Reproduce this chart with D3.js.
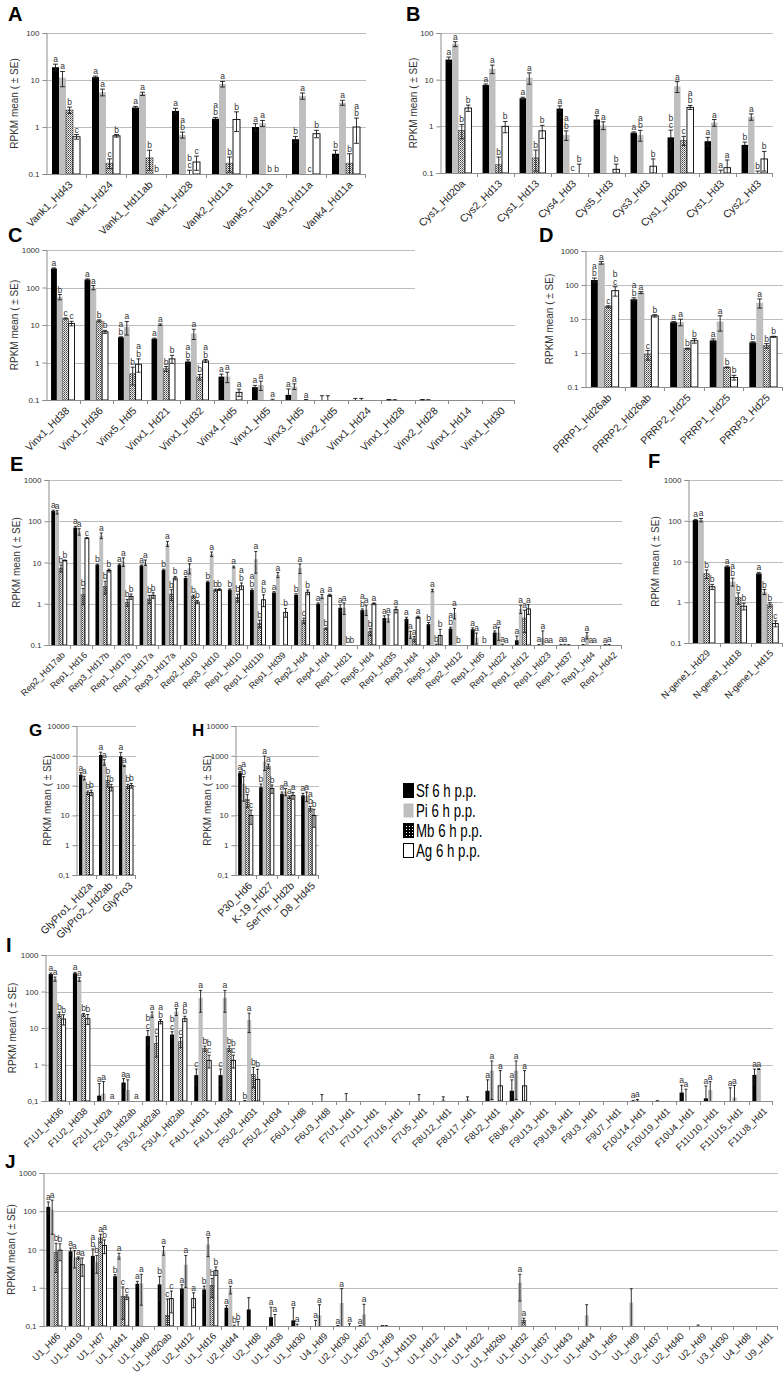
<!DOCTYPE html>
<html><head><meta charset="utf-8">
<script src="https://cdn.jsdelivr.net/npm/d3@7"></script>
<style>body{margin:0;background:#fff;} svg{display:block;font-family:"Liberation Sans",Arial,sans-serif;}</style>
</head><body><svg id="c" width="784" height="1375"></svg>
<script>
// ---------- DATA: [mean, SE] per category; null = no bar ----------
const seriesNames = ["Sf 6 h p.p.","Pi 6 h p.p.","Mb 6 h p.p.","Ag 6 h p.p."];

const catsA = ["Vank1_Hd43","Vank1_Hd24","Vank1_Hd11ab","Vank1_Hd28","Vank2_Hd11a","Vank5_Hd11a","Vank3_Hd11a","Vank4_Hd11a"];
const sfA = [[18.7,3],[11.5,0.6],[2.6,0.15],[2.2,0.3],[1.5,0.1],[1.0,0.18],[0.55,0.08],[0.27,0.05]];
const piA = [[11.2,4],[5.5,0.9],[5.1,0.4],[0.68,0.1],[8.2,1.1],[1.2,0.18],[4.6,0.7],[3.3,0.4]];
const mbA = [[2.3,0.35],[0.17,0.04],[0.22,0.1],[0.09,0.03],[0.17,0.06],null,[0.09,0.01],[0.17,0.1]];
const agA = [[0.62,0.07],[0.65,0.04],null,[0.18,0.06],[1.45,0.65],null,[0.72,0.13],[1.0,0.55]];
const letA = ["a a b c","a a c b","a a b b","a ab bc c","ab a b b","a a b b","b a c b","b a b ab"];

const catsB = ["Cys1_Hd20a","Cys2_Hd13","Cys1_Hd13","Cys4_Hd3","Cys5_Hd3","Cys3_Hd3","Cys1_Hd20b","Cys1_Hd3","Cys2_Hd3"];
const sfB = [[27,3.5],[7.7,0.4],[4.0,0.2],[2.4,0.35],[1.4,0.3],[0.73,0.03],[0.58,0.25],[0.48,0.1],[0.4,0.06]];
const piB = [[58,7],[17,3.5],[11,3],[0.65,0.15],[1.05,0.2],[0.65,0.17],[7.2,1.9],[1.2,0.2],[1.6,0.25]];
const mbB = [[0.82,0.28],[0.15,0.07],[0.21,0.1],null,null,null,[0.5,0.11],[0.1,0.015],[0.1,0.01]];
const agB = [[2.47,0.38],[1.0,0.27],[0.8,0.25],[0.1,0.055],[0.12,0.035],[0.14,0.06],[2.55,0.25],[0.13,0.06],[0.2,0.09]];
const letB = ["a a b b","a a b b","a a b b","a ab c b","a a - b","a ab - b","bc a c ab","a a a a","b a b b"];

const catsC = ["Vinx1_Hd38","Vinx1_Hd36","Vinx5_Hd5","Vinx1_Hd21","Vinx1_Hd32","Vinx4_Hd5","Vinx1_Hd5","Vinx3_Hd5","Vinx2_Hd5","Vinx1_Hd24","Vinx1_Hd28","Vinx2_Hd28","Vinx1_Hd14","Vinx1_Hd30"];
const sfC = [[321,12],[163,6],[4.7,0.15],[4.3,0.15],[1.06,0.12],[0.42,0.07],[0.22,0.025],[0.137,0.06],[0.1,0.03],[0.1,0.01],[0.102,0.001],[0.102,0.001],null,null];
const piC = [[56,9],[100,13],[8.9,3.5],[10.2,0.5],[5.9,1.8],[0.42,0.13],[0.25,0.07],[0.23,0.04],[0.1,0.03],[0.1,0.01],[0.101,0.001],[0.101,0.001],null,null];
const mbC = [[14.9,0.5],[12.9,0.8],[0.5,0.25],[0.68,0.1],[0.41,0.07],null,null,null,null,null,null,null,null,null];
const agC = [[11,1.5],[6.6,0.6],[0.9,0.35],[1.25,0.3],[1.1,0.1],[0.16,0.035],[0.1,0.005],[0.1,0.003],null,null,null,null,null,null];
const letC = ["a b c c","a a b b","ab a b ab","a a b b","ab a b ab","a a - a","a a - a","a a - a","- - - -","- - - -","- - - -","- - - -","- - - -","- - - -"];

const catsD = ["PRRP1_Hd26ab","PRRP2_Hd26ab","PRRP2_Hd25","PRRP1_Hd25","PRRP3_Hd25"];
const sfD = [[140,20],[38,4],[8.0,0.4],[2.35,0.25],[2.05,0.1]];
const piD = [[450,40],[60,4],[8.1,1.8],[8.4,4],[30,9]];
const mbD = [[23,1.5],[0.9,0.28],[1.34,0.05],[0.38,0.01],[1.64,0.25]];
const agD = [[68,21],[12.4,1],[2.3,0.35],[0.19,0.03],[3.0,0.1]];
const letD = ["ab a c bc","ab a c b","a a b b","a a b b","b a b b"];

const catsE = ["Rep2_Hd17ab","Rep1_Hd16","Rep3_Hd17b","Rep1_Hd17b","Rep1_Hd17a","Rep3_Hd17a","Rep2_Hd10","Rep3_Hd10","Rep1_Hd10","Rep1_Hd11b","Rep1_Hd39","Rep2_Hd4","Rep4_Hd4","Rep1_Hd21","Rep6_Hd4","Rep1_Hd35","Rep3_Hd4","Rep5_Hd4","Rep2_Hd12","Rep1_Hd6","Rep1_Hd22","Rep1_Hd12","Rep1_Hd23","Rep1_Hd37","Rep1_Hd4","Rep1_Hd42"];
const sfE = [[178,8],[70,5],[8.8,0.3],[8.8,0.4],[8.4,0.3],[6.6,0.3],[4.2,0.35],[3.4,0.15],[2.2,0.1],[2.15,0.15],[1.87,0.1],[1.65,0.1],[1.0,0.05],[0.8,0.15],[0.7,0.05],[0.45,0.06],[0.43,0.04],[0.32,0.03],[0.25,0.02],[0.24,0.02],[0.2,0.02],[0.13,0.035],[0.1,0.003],[0.1,0.003],[0.1,0.003],[0.1,0.002]];
const piE = [[165,15],[56,10],[45,7],[10.5,2.5],[10,1.5],[28.5,4],[7.3,2],[16,2],[7.8,0.4],[12,6.5],[5.0,0.7],[7.3,1.9],[1.5,0.17],[0.8,0.25],[0.72,0.2],[0.45,0.09],[0.18,0.035],[2.1,0.15],[0.6,0.17],[0.15,0.045],[0.2,0.07],[0.75,0.17],[0.15,0.07],[0.1,0.004],[0.17,0.03],[0.1,0.003]];
const mbE = [[7.3,1.4],[1.65,0.7],[2.6,0.9],[1.07,0.2],[1.3,0.3],[1.7,0.5],[1.5,0.12],[2.15,0.12],[1.4,0.3],[0.33,0.07],null,[0.39,0.06],[0.25,0.01],null,[0.21,0.04],null,[0.14,0.02],[0.1,0.005],null,null,[0.1,0.005],[0.45,0.25],null,[0.1,0.002],null,null];
const agE = [[11.2,0.3],[39,1],[6.4,0.5],[1.5,0.22],[1.6,0.25],[4.2,0.4],[1.1,0.1],[2.2,0.1],[2.7,0.5],[1.25,0.4],[0.62,0.15],[1.9,0.25],[1.6,0.1],null,[1.0,0.05],[0.72,0.12],[0.47,0.03],[0.17,0.07],null,null,null,[0.75,0.2],null,null,null,null];
const letE = ["a a b b","a a b c","b a b b","a a b b","a a b b","b a b b","a a b b","b a b b","b a b ab","ab a b ab","a a - b","b a c b","a a b a","a a b b","ab a b a","a a - a","a a a a","b a b b","ab a b -","a a - b","a a a a","a a a a","a a a a","a a - -","a a a a","a a - -"];

const catsF = ["N-gene1_Hd29","N-gene1_Hd18","N-gene1_Hd15"];
const sfF = [[104,4],[7.5,0.3],[5.1,0.3]];
const piF = [[104,10],[3.2,0.7],[1.8,0.25]];
const mbF = [[5.0,1.2],[1.3,0.4],[0.87,0.1]];
const agF = [[2.4,0.35],[0.8,0.15],[0.3,0.05]];
const letF = ["a a b b","a ab b b","a b b c"];

const catsG = ["GlyPro1_Hd2a","GlyPro2_Hd2ab","GlyPro3"];
const sfG = [[232,40],[1070,250],[950,350]];
const piG = [[180,25],[610,130],[460,25]];
const mbG = [[58,8],[150,60],[95,15]];
const agG = [[58,12],[88,22],[100,18]];
const letG = ["a a b b","a a b b","a a b b"];

const catsH = ["P30_Hd6","K-19_Hd27","SerThr_Hd2b","D8_Hd45"];
const sfH = [[270,25],[88,25],[53,8],[47,8]];
const piH = [[115,85],[650,330],[63,17],[45,16]];
const mbH = [[34,16],[450,80],[41,4],[17,3]];
const agH = [[10,5],[80,25],[47,12],[10,6]];
const letH = ["a ab b c","b a a b","a a a a","a a ab b"];

const catsI = ["F1U1_Hd36","F1U2_Hd38","F2U1_Hd2a","F2U3_Hd2ab","F3U2_Hd2ab","F3U4_Hd2ab","F4U1_Hd31","F4U1_Hd34","F5U2_Hd31","F5U2_Hd34","F6U1_Hd8","F6U3_Hd8","F7U1_Hd1","F7U11_Hd1","F7U16_Hd1","F7U5_Hd1","F8U12_Hd1","F8U17_Hd1","F8U2_Hd1","F8U6_Hd1","F9U13_Hd1","F9U18_Hd1","F9U3_Hd1","F9U7_Hd1","F10U14_Hd1","F10U19_Hd1","F10U4_Hd1","F11U10_Hd1","F11U15_Hd1","F11U8_Hd1"];
const sfI = [[300,20],[315,20],[0.14,0.16],[0.32,0.09],[6.0,2.5],[6.6,1.3],[0.51,0.24],[0.51,0.24],[0.1,0.003],null,null,null,null,null,null,null,null,null,[0.19,0.19],[0.19,0.19],null,null,null,null,[0.1,0.004],[0.101,0.001],[0.17,0.1],[0.118,0.14],[0.1,0.13],[0.52,0.23]];
const piI = [[220,28],[215,25],[0.16,0.18],[0.2,0.18],[23.5,4],[28,6],[67,40],[67,40],[16.5,9],null,null,[0.1,0.05],[0.1,0.06],null,null,[0.1,0.05],[0.11,0.02],[0.11,0.02],[0.68,0.57],[0.68,0.57],null,null,null,null,[0.105,0.005],null,[0.1,0.11],[0.2,0.14],[0.125,0.14],[0.75,0.02]];
const mbI = [[23.7,3.5],[23,2],null,null,[3.8,2.2],[4.2,1.3],[2.75,0.45],[2.75,0.45],[0.53,0.3],null,null,null,null,null,null,null,null,null,null,null,null,null,null,null,null,null,null,null,null,null];
const agI = [[17.6,5.5],[18,5.5],null,null,[15,2],[18,3],[1.3,0.5],[1.3,0.5],[0.39,0.35],null,null,null,null,null,null,null,null,null,[0.26,0.42],[0.26,0.42],null,null,null,null,null,null,null,null,null,null];
const letI = ["a a b b","a a b b","a a - a","a a - a","bc a c ab","bc a c ab","c a b bc","c a b bc","b a b b","- - - -","- - - -","- - - -","- - - -","- - - -","- - - -","- - - -","- - - -","- - - -","a a - a","a a - a","- - - -","- - - -","- - - -","- - - -","a a - -","- - - -","a a - -","a a - -","a a - -","a a - -"];

const catsJ = ["U1_Hd6","U1_Hd19","U1_Hd7","U1_Hd41","U1_Hd40","U1_Hd20ab","U2_Hd12","U1_Hd16","U2_Hd44","U2_Hd8","U1_Hd38","U1_Hd30","U4_Hd9","U2_Hd30","U1_Hd27","U3_Hd9","U1_Hd11b","U1_Hd12","U1_Hd14","U1_Hd22","U1_Hd26b","U1_Hd32","U1_Hd37","U1_Hd43","U1_Hd44","U1_Hd5","U1_Hd9","U2_Hd37","U2_Hd40","U2_Hd9","U3_Hd30","U4_Hd8","U9_Hd1"];
const sfJ = [[130,45],[9.0,1.9],[6.8,3.5],[2.0,0.2],[1.27,0.2],[1.22,0.75],[0.95,0.25],[0.9,0.2],[0.3,0.04],[0.27,0.28],[0.17,0.14],[0.14,0.16],[0.1,0.04],[0.1,0.003],[0.1,0.003],[0.101,0.002],null,null,null,null,null,null,null,null,null,null,null,null,null,null,null,null,null];
const piJ = [[110,85],[6.3,3],[4.7,2.3],[6.8,1.2],[1.3,0.95],[9.6,2.5],[4.0,3],[13.5,7],[0.89,0.2],null,[0.1,0.1],[0.1,0.012],[0.19,0.17],[0.4,0.55],[0.2,0.17],[0.101,0.002],null,null,null,null,null,[1.35,0.9],null,null,[0.19,0.17],null,[0.41,0.53],null,null,[0.101,0.005],null,null,null];
const mbJ = [[8.5,6],[6.0,0.4],[20,5],[0.6,0.45],null,[0.19,0.32],null,[1.15,0.6],[0.1,0.005],null,null,null,null,null,null,null,null,null,null,null,null,[0.14,0.02],null,null,null,null,null,null,null,null,null,null,null];
const agJ = [[9.6,4.5],[4.0,2],[12.8,5],[0.57,0.08],null,[0.52,0.3],[0.52,0.22],[2.8,0.7],[0.1,0.03],null,null,null,null,[0.1,0.015],null,null,null,null,null,null,null,null,null,null,null,null,null,null,null,null,null,null,null];
const letJ = ["a a b b","a a a a","ab b a ab","b a c c","a a - -","b a c c","a a - a","b a b b","a a b b","- - - -","a a - -","a a - -","a a - -","a a - a","a a - -","- - - -","- - - -","- - - -","- - - -","- - - -","- - - -","- a a -","- - - -","- - - -","- - - -","- - - -","- - - -","- - - -","- - - -","- - - -","- - - -","- - - -","- - - -"];

// ---------- LAYOUT ----------
const panels = [
  {key:"A", cats:catsA, s:[sfA,piA,mbA,agA], lt:letA, x0:46, x1:366, yT:33, yB:174, top:100, comma:false, lab:[8,21,20], tx:14, lf:10.5},
  {key:"B", cats:catsB, s:[sfB,piB,mbB,agB], lt:letB, x0:440, x1:773, yT:33, yB:173, top:100, comma:false, lab:[406,21,20], tx:413, lf:10.5},
  {key:"C", cats:catsC, s:[sfC,piC,mbC,agC], lt:letC, x0:46, x1:515, yT:250, yB:400, top:1000, comma:false, lab:[8,242,20], tx:14, lf:10.5, cut:{1000:415,100:415}},
  {key:"D", cats:catsD, s:[sfD,piD,mbD,agD], lt:letD, x0:585, x1:783, yT:251, yB:387, top:1000, comma:false, lab:[539,242,20], tx:549, lf:10.5},
  {key:"E", cats:catsE, s:[sfE,piE,mbE,agE], lt:letE, x0:48, x1:622, yT:480, yB:645, top:1000, comma:false, lab:[10,471,20], tx:16, lf:9},
  {key:"F", cats:catsF, s:[sfF,piF,mbF,agF], lt:letF, x0:688, x1:783, yT:480, yB:643, top:1000, comma:false, lab:[648,468,20], tx:655, lf:9.5},
  {key:"G", cats:catsG, s:[sfG,piG,mbG,agG], lt:letG, x0:76, x1:136, yT:726, yB:875, top:10000, comma:true, lab:[29,736,17], tx:47, lf:10.5},
  {key:"H", cats:catsH, s:[sfH,piH,mbH,agH], lt:letH, x0:235, x1:319, yT:726, yB:875, top:10000, comma:true, lab:[192,736,17], tx:207, lf:10.5},
  {key:"I", cats:catsI, s:[sfI,piI,mbI,agI], lt:letI, x0:45, x1:773, yT:955, yB:1101, top:1000, comma:true, lab:[6,952,20], tx:12, lf:9.5},
  {key:"J", cats:catsJ, s:[sfJ,piJ,mbJ,agJ], lt:letJ, x0:43, x1:778, yT:1173, yB:1326, top:1000, comma:true, lab:[5,1168,19], tx:11, lf:9.5}
];

const svg = d3.select("#c");
svg.append("rect").attr("width",784).attr("height",1375).attr("fill","#fff");
const defs = svg.append("defs");
const pat = defs.append("pattern").attr("id","mb").attr("width",2).attr("height",2).attr("patternUnits","userSpaceOnUse");
pat.append("rect").attr("width",2).attr("height",2).attr("fill","#eeeeee");
pat.append("rect").attr("width",1).attr("height",1).attr("fill","#404040");
pat.append("rect").attr("x",1).attr("y",1).attr("width",1).attr("height",1).attr("fill","#808080");
const pat2 = defs.append("pattern").attr("id","mbl").attr("width",3).attr("height",3).attr("patternUnits","userSpaceOnUse");
pat2.append("rect").attr("width",3).attr("height",3).attr("fill","#000");
pat2.append("rect").attr("x",1).attr("y",1).attr("width",1).attr("height",1).attr("fill","#fff");

const fills = ["#000","#bfbfbf","url(#mb)","#fff"];
const strokes = ["none","none","#404040","#000"];

function drawPanel(p){
  const g = svg.append("g");
  const x = d3.scaleBand().domain(p.cats).range([p.x0,p.x1]).paddingInner(0.3).paddingOuter(0.15);
  const step = x.step();
  const xs = d3.scaleBand().domain([0,1,2,3]).range([0,x.bandwidth()]);
  const y = d3.scaleLog().domain([0.1,p.top]).range([p.yB,p.yT]);
  const ticks = [];
  for (let k=-1; Math.pow(10,k) <= p.top*1.0001; k++) ticks.push(Math.pow(10,k));
  const fmt = v => v < 1 ? (p.comma ? "0,1" : "0.1") : String(Math.round(v));

  // gridlines
  ticks.filter(t => t > 0.11).forEach(t => {
    const yy = Math.round(y(t)) + 0.5;
    g.append("line").attr("x1",p.x0).attr("x2",(p.cut && p.cut[Math.round(t)]) || p.x1)
      .attr("y1",yy).attr("y2",yy).attr("stroke","#bdbdbd").attr("stroke-width",1);
  });

  // bars
  p.s.forEach((arr, si) => {
    arr.forEach((d, i) => {
      if (!d || d[0] <= 0.1) return;
      const bx = x(p.cats[i]) + xs(si);
      const yv = y(d[0]);
      g.append("rect").attr("x",bx).attr("y",yv).attr("width",xs.bandwidth())
        .attr("height",Math.max(0,p.yB - yv)).attr("fill",fills[si])
        .attr("stroke",strokes[si]).attr("stroke-width",si===3?0.9:0.6);
    });
  });

  // y axis
  const ax = d3.axisLeft(y).tickValues(ticks).tickFormat(fmt).tickSize(4).tickPadding(3);
  const ag = g.append("g").attr("transform",`translate(${p.x0+0.5},0)`).call(ax);
  ag.select(".domain").attr("stroke","#8c8c8c");
  ag.selectAll(".tick line").attr("stroke","#8c8c8c");
  ag.selectAll(".tick text").attr("fill","#333").attr("font-size",8).attr("font-family","Liberation Sans, Arial, sans-serif");

  // x axis line + boundary ticks
  g.append("line").attr("x1",p.x0).attr("x2",p.x1).attr("y1",p.yB+0.5).attr("y2",p.yB+0.5).attr("stroke","#8c8c8c");
  p.cats.forEach((c,i) => {
    const bx = Math.round(x(c) - step*0.15) + 0.5;
    if (i>0) g.append("line").attr("x1",bx).attr("x2",bx).attr("y1",p.yB).attr("y2",p.yB+4).attr("stroke","#8c8c8c");
  });
  g.append("line").attr("x1",p.x1-0.5).attr("x2",p.x1-0.5).attr("y1",p.yB).attr("y2",p.yB+4).attr("stroke","#8c8c8c");

  // category labels
  p.cats.forEach(c => {
    const cx = x(c) + x.bandwidth()/2;
    g.append("text").attr("transform",`translate(${cx+2},${p.yB+6}) rotate(-45)`)
      .attr("text-anchor","end").attr("dy","0.72em").attr("font-size",p.lf).attr("fill","#262626").text(c);
  });

  // error bars + letters
  p.s.forEach((arr, si) => {
    arr.forEach((d, i) => {
      const cx = x(p.cats[i]) + xs(si) + xs.bandwidth()/2;
      let topY = p.yB;
      if (d) {
        const hi = d[0] + d[1], lo = d[0] - d[1];
        if (hi > 0.1) {
          const yh = y(hi), yl = lo > 0.1 ? y(lo) : p.yB;
          const cw = Math.min(5, Math.max(3, xs.bandwidth()*0.7));
          g.append("line").attr("x1",cx).attr("x2",cx).attr("y1",yh).attr("y2",yl).attr("stroke","#1a1a1a").attr("stroke-width",0.9);
          g.append("line").attr("x1",cx-cw/2).attr("x2",cx+cw/2).attr("y1",yh).attr("y2",yh).attr("stroke","#1a1a1a").attr("stroke-width",0.9);
          if (lo > 0.1) g.append("line").attr("x1",cx-cw/2).attr("x2",cx+cw/2).attr("y1",yl).attr("y2",yl).attr("stroke","#1a1a1a").attr("stroke-width",0.9);
          topY = Math.min(yh, d[0] > 0.1 ? y(d[0]) : p.yB);
        }
      }
      const L = p.lt[i].split(" ")[si];
      if (L && L !== "-") {
        const chars = L.split("");
        chars.forEach((ch, k) => {
          g.append("text").attr("x",cx).attr("y",topY - 2 - (chars.length-1-k)*7.5)
            .attr("text-anchor","middle").attr("font-size",8.5).attr("fill","#333").text(ch);
        });
      }
    });
  });

  // y title
  g.append("text").attr("transform",`translate(${p.tx},${(p.yT+p.yB)/2}) rotate(-90)`)
    .attr("text-anchor","middle").attr("dy","0.35em").attr("font-size",10).attr("fill","#333").text("RPKM mean ( \u00b1 SE)");

  // panel letter
  g.append("text").attr("x",p.lab[0]).attr("y",p.lab[1]).attr("font-size",p.lab[2]).attr("font-weight","bold").attr("fill","#000").text(p.key);
}

panels.forEach(drawPanel);

// legend
const lg = svg.append("g");
const legY = d3.scalePoint().domain(seriesNames).range([783,843]);
seriesNames.forEach((n,i) => {
  const yy = legY(n);
  lg.append("rect").attr("x",403.5).attr("y",yy+0.5).attr("width",10).attr("height",14)
    .attr("fill", i===2 ? "url(#mbl)" : fills[i]).attr("stroke", i===3 ? "#000" : (i===1?"none":"#000")).attr("stroke-width",1);
  lg.append("text").attr("transform",`translate(416,${yy+14}) scale(0.7,1)`).attr("font-size",19).attr("fill","#000").text(n);
});
</script></body></html>
